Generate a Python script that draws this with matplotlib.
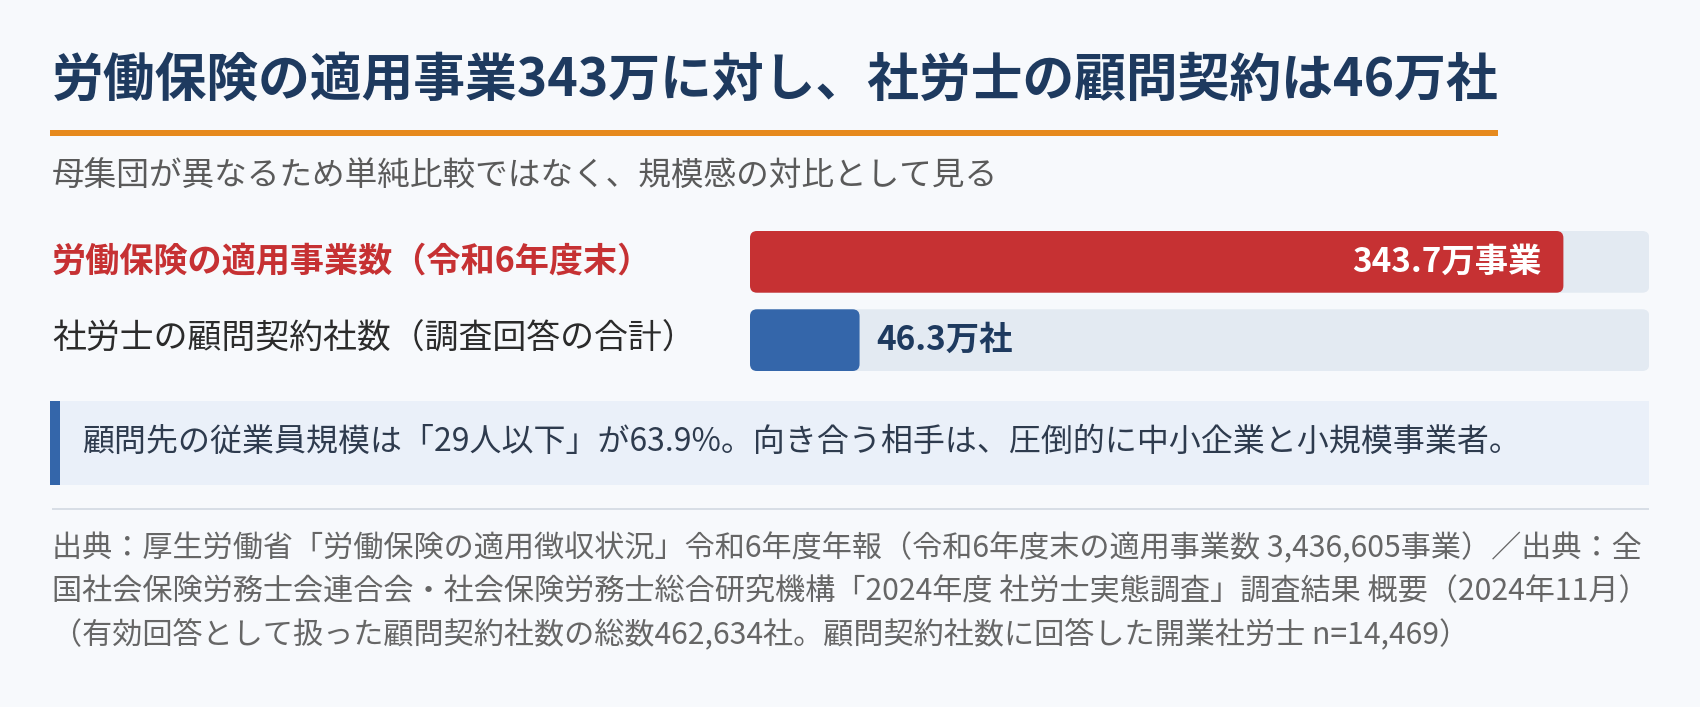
import matplotlib
matplotlib.use("Agg")
import matplotlib.pyplot as plt
from matplotlib.patches import FancyBboxPatch, Rectangle
from matplotlib.transforms import Affine2D

plt.rcParams['font.family'] = ['Noto Sans CJK JP', 'DejaVu Sans']

# data
title = "労働保険の適用事業343万に対し、社労士の顧問契約は46万社"
subtitle = "母集団が異なるため単純比較ではなく、規模感の対比として見る"
categories = ["労働保険の適用事業数（令和6年度末）", "社労士の顧問契約社数（調査回答の合計）"]
values = [343.7, 46.3]          # 万
value_labels = ["343.7万事業", "46.3万社"]
scale_max = 380.0
callout = "顧問先の従業員規模は「29人以下」が63.9%。向き合う相手は、圧倒的に中小企業と小規模事業者。"
source_lines = [
    "出典：厚生労働省「労働保険の適用徴収状況」令和6年度年報（令和6年度末の適用事業数 3,436,605事業）／出典：全",
    "国社会保険労務士会連合会・社会保険労務士総合研究機構「2024年度 社労士実態調査」調査結果 概要（2024年11月）",
    "（有効回答として扱った顧問契約社数の総数462,634社。顧問契約社数に回答した開業社労士 n=14,469）",
]

BG = "#F7F9FC"
NAVY = "#1E3A5F"
ORANGE = "#E68A1E"
RED = "#C63133"
BLUE = "#3466AA"
TRACK = "#E3EAF2"

W, H = 1700, 707
fig = plt.figure(figsize=(W / 100, H / 100), dpi=100, facecolor=BG)
# pixel coordinates, origin top-left
px = Affine2D().scale(1 / W, -1 / H).translate(0, 1) + fig.transFigure

fig.text(52, 80, title, transform=px, fontsize=37.3, fontweight='bold',
         color=NAVY, va='center', ha='left')
fig.patches.append(Rectangle((50, 130), 1448, 6, transform=px,
                             facecolor=ORANGE, edgecolor='none'))
fig.text(52, 176, subtitle, transform=px, fontsize=23.5, color="#5A5A5A",
         va='center', ha='left')

# bars
ax_left, ax_top, ax_w, ax_h = 750, 231, 899.3, 140
ax = fig.add_axes([ax_left / W, 1 - (ax_top + ax_h) / H, ax_w / W, ax_h / H])
ax.set_facecolor('none')
bar_h = 0.788
ax.set_xlim(0, scale_max)
ax.set_ylim(len(values) - 1 + 0.394, -0.394)
ax.axis('off')

x_per_px = scale_max / ax_w
y_per_px = (len(values) - 1 + 0.788) / ax_h
aspect = y_per_px / x_per_px
rad = 7 * x_per_px
box = f"round,pad=0,rounding_size={rad}"

label_colors = [RED, "#2B2B2B"]
label_weights = ['bold', 'normal']
label_sizes = [24.6, 24.4]
bar_colors = [RED, BLUE]
label_y = [261, 338]
for i, (cat, v, vl) in enumerate(zip(categories, values, value_labels)):
    ax.add_patch(FancyBboxPatch((0, i - bar_h / 2), scale_max, bar_h, boxstyle=box,
                                mutation_aspect=aspect, facecolor=TRACK, edgecolor='none'))
    ax.add_patch(FancyBboxPatch((0, i - bar_h / 2), v, bar_h, boxstyle=box,
                                mutation_aspect=aspect, facecolor=bar_colors[i], edgecolor='none'))
    fig.text(52, label_y[i], cat, transform=px, fontsize=label_sizes[i],
             fontweight=label_weights[i], color=label_colors[i], va='center', ha='left')
    if v / scale_max > 0.3:
        ax.annotate(vl, (v, i), xytext=(-22, 0), textcoords='offset pixels',
                    ha='right', va='center', fontsize=24, fontweight='bold', color='white')
    else:
        ax.annotate(vl, (v, i), xytext=(17, 0), textcoords='offset pixels',
                    ha='left', va='center', fontsize=24, fontweight='bold', color=NAVY)

# callout box
fig.patches.append(Rectangle((50, 401), 1599, 84, transform=px,
                             facecolor="#EAF0F9", edgecolor='none'))
fig.patches.append(Rectangle((50, 401), 10, 84, transform=px,
                             facecolor=BLUE, edgecolor='none'))
fig.text(82, 442, callout, transform=px, fontsize=23, color="#2E3B4E",
         va='center', ha='left')

# divider and sources
fig.patches.append(Rectangle((52, 508), 1597, 2, transform=px,
                             facecolor="#D8DEE6", edgecolor='none'))
for k, line in enumerate(source_lines):
    fig.text(52, 549 + 43 * k, line, transform=px, fontsize=21.7, color="#666666",
             va='center', ha='left')

fig.savefig("out.png", dpi=100, facecolor=BG)
